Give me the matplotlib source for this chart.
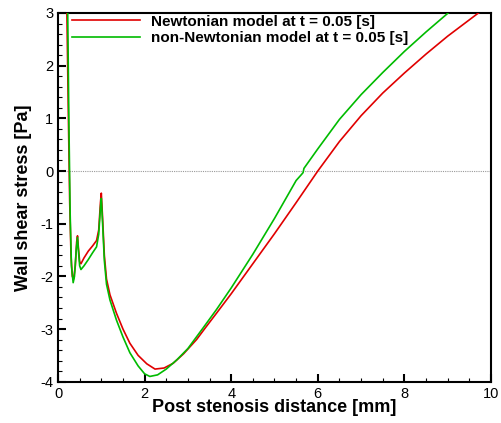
import matplotlib
matplotlib.use("Agg")
import matplotlib.pyplot as plt
from matplotlib.ticker import MultipleLocator

plt.rcParams["font.family"] = ["Liberation Sans", "DejaVu Sans"]
plt.rcParams["axes.unicode_minus"] = False

# Newtonian model, t = 0.05 s
newt_x = [0.20, 0.24, 0.27, 0.30, 0.33, 0.36, 0.40, 0.43, 0.45, 0.47, 0.50, 0.53,
          0.60, 0.70, 0.80, 0.89, 0.94, 0.98, 1.00, 1.03, 1.07, 1.12, 1.20, 1.35,
          1.50, 1.66, 1.85, 2.05, 2.24, 2.45, 2.66, 2.90, 3.20, 3.40, 3.66,
          4.00, 4.50, 5.00, 5.50, 6.00, 6.50, 7.00, 7.50, 8.00, 8.50, 9.00, 9.50, 9.71, 9.90]
newt_y = [3.30, 1.00, -0.60, -1.60, -2.00, -2.05, -1.80, -1.35, -1.23, -1.45, -1.72, -1.76,
          -1.65, -1.52, -1.42, -1.32, -1.12, -0.60, -0.42, -0.90, -1.60, -2.05, -2.35, -2.70,
          -3.00, -3.27, -3.50, -3.66, -3.76, -3.74, -3.65, -3.47, -3.20, -2.98, -2.70,
          -2.33, -1.76, -1.19, -0.60, 0.00, 0.56, 1.05, 1.48, 1.86, 2.22, 2.56, 2.87, 3.00, 3.10]

# non-Newtonian model, t = 0.05 s
nonn_x = [0.22, 0.25, 0.28, 0.31, 0.35, 0.38, 0.42, 0.45, 0.47, 0.50, 0.53,
          0.60, 0.70, 0.80, 0.89, 0.94, 0.98, 1.00, 1.03, 1.07, 1.12, 1.20, 1.35,
          1.50, 1.66, 1.85, 2.00, 2.12, 2.30, 2.50, 2.75, 3.00, 3.35, 3.66,
          4.00, 4.50, 5.00, 5.50, 5.63, 5.66, 5.68, 6.00, 6.50, 7.00, 7.50, 8.00, 8.50,
          9.01, 9.20]
nonn_y = [3.30, 1.00, -0.80, -1.80, -2.12, -2.00, -1.50, -1.26, -1.50, -1.80, -1.87,
          -1.80, -1.68, -1.55, -1.44, -1.20, -0.70, -0.52, -1.00, -1.70, -2.15, -2.45, -2.83,
          -3.15, -3.45, -3.70, -3.85, -3.90, -3.87, -3.76, -3.58, -3.37, -2.98, -2.63,
          -2.22, -1.58, -0.90, -0.18, -0.06, -0.03, 0.05, 0.42, 0.98, 1.45, 1.87, 2.27, 2.64,
          3.00, 3.12]

labels = ["Newtonian model at t = 0.05 [s]", "non-Newtonian model at t = 0.05 [s]"]

fig = plt.figure(figsize=(5.01, 4.23), dpi=100)
ax = fig.add_axes([0.1158, 0.0976, 0.8642, 0.8717])

ax.axhline(0, color="#999999", lw=0.8, ls=(0, (1, 1)), zorder=1)
ax.plot(newt_x, newt_y, color="#e00000", lw=1.2, label=labels[0], zorder=3)
ax.plot(nonn_x, nonn_y, color="#00bb00", lw=1.2, label=labels[1], zorder=3)

ax.set_xlim(0, 10)
ax.set_ylim(-4, 3)
ax.xaxis.set_major_locator(MultipleLocator(2))
ax.xaxis.set_minor_locator(MultipleLocator(0.5))
ax.yaxis.set_major_locator(MultipleLocator(1))
ax.yaxis.set_minor_locator(MultipleLocator(0.2))
ax.tick_params(which="both", direction="in", top=False, right=False, labelsize=10.5)
ax.tick_params(which="major", length=6, width=1.5)
ax.tick_params(which="minor", length=3, width=0.8)
for s in ax.spines.values():
    s.set_linewidth(1.5)

ax.set_xlabel("Post stenosis distance [mm]", fontsize=13, fontweight="bold", labelpad=-1)
ax.set_ylabel("Wall shear stress [Pa]", fontsize=13, fontweight="bold", labelpad=6)

leg = ax.legend(loc="upper left", bbox_to_anchor=(0.032, 0.995), frameon=False,
                prop={"weight": "bold", "size": 11}, handlelength=4.45,
                handletextpad=0.76, labelspacing=0.15, borderpad=0, borderaxespad=0)

fig.savefig("out.png", dpi=100)
